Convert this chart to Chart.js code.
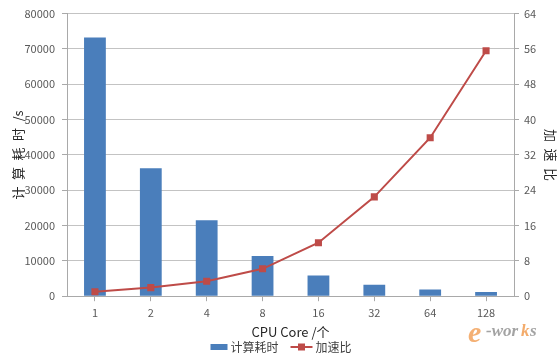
<!DOCTYPE html>
<html>
<head>
<meta charset="utf-8">
<script src="https://cdn.jsdelivr.net/npm/chart.js@4/dist/chart.umd.min.js"></script>
<style>
  html, body { margin: 0; padding: 0; background: #ffffff; }
  #wrap { width: 559px; height: 355px; position: relative; }
</style>
</head>
<body>
<div id="wrap"><canvas id="c" width="559" height="355"></canvas></div>
<script>
const categories = ['1', '2', '4', '8', '16', '32', '64', '128'];
const timeValues = [73200, 36200, 21500, 11400, 5850, 3260, 1870, 1200];
const speedupValues = [1.0, 1.95, 3.4, 6.2, 12.1, 22.5, 35.9, 55.6];
const leftTicks = [0, 10000, 20000, 30000, 40000, 50000, 60000, 70000, 80000];
const rightTicks = [0, 8, 16, 24, 32, 40, 48, 56, 64];
const seriesNames = ['计算耗时', '加速比'];
const xTitle = 'CPU Core /个';
const yTitle = '计\u2002算\u2002耗\u2002时\u2002/s';
const y1Title = '加\u2002速\u2002比';

const FONT = "'Noto Sans CJK SC', 'Liberation Sans', sans-serif";
const BLUE = '#4a7ebb';
const RED = '#be4b48';
const GRID = '#c3c3c3';
const AXIS = '#a9a9a9';

// Custom legend + watermark drawn after the chart
const overlay = {
  id: 'overlay',
  afterDraw(chart) {
    const ctx = chart.ctx;
    const bar = chart.data.datasets.find(d => d.type === 'bar');
    const line = chart.data.datasets.find(d => d.type === 'line');
    ctx.save();
    ctx.font = "12px " + FONT;
    ctx.textBaseline = 'middle';
    const cy = 347;
    const w1 = ctx.measureText(bar.label).width;
    const w2 = ctx.measureText(line.label).width;
    const total = 17 + 3 + w1 + 12 + 22 + 3 + w2;
    let x = 281 - total / 2;
    ctx.fillStyle = bar.backgroundColor;
    ctx.fillRect(x, cy - 3, 17, 6);
    x += 20;
    ctx.fillStyle = '#404040';
    ctx.fillText(bar.label, x, cy);
    x += w1 + 12;
    ctx.strokeStyle = line.borderColor;
    ctx.lineWidth = 2;
    ctx.beginPath();
    ctx.moveTo(x, cy);
    ctx.lineTo(x + 22, cy);
    ctx.stroke();
    ctx.fillStyle = line.borderColor;
    ctx.fillRect(x + 11 - 3.5, cy - 3.5, 7, 7);
    x += 25;
    ctx.fillStyle = '#404040';
    ctx.fillText(line.label, x, cy);
    ctx.restore();

    // watermark
    ctx.save();
    ctx.textBaseline = 'alphabetic';
    ctx.font = "italic bold 30px 'Liberation Serif', serif";
    ctx.fillStyle = 'rgba(240,150,70,0.75)';
    ctx.fillText('e', 468, 342);
    ctx.font = "italic bold 17px 'Liberation Serif', serif";
    ctx.fillStyle = 'rgba(140,140,140,0.8)';
    ctx.fillText('-wor', 486, 336);
    ctx.fillStyle = 'rgba(240,150,70,0.8)';
    ctx.fillText('k', 521, 336);
    ctx.fillStyle = 'rgba(140,140,140,0.8)';
    ctx.fillText('s', 530, 336);
    ctx.restore();
  }
};

new Chart(document.getElementById('c'), {
  data: {
    labels: categories,
    datasets: [
      {
        type: 'line',
        label: seriesNames[1],
        data: speedupValues,
        yAxisID: 'y1',
        borderColor: RED,
        backgroundColor: RED,
        borderWidth: 2,
        pointStyle: 'rect',
        pointRadius: 5,
        pointHoverRadius: 5,
        pointBackgroundColor: RED,
        pointBorderColor: RED,
        pointBorderWidth: 0,
        tension: 0,
        order: 0
      },
      {
        type: 'bar',
        label: seriesNames[0],
        data: timeValues,
        yAxisID: 'y',
        backgroundColor: BLUE,
        borderWidth: 0,
        barPercentage: 0.39,
        categoryPercentage: 1.0,
        order: 1
      }
    ]
  },
  options: {
    responsive: false,
    animation: false,
    devicePixelRatio: 1,
    layout: { padding: { top: 9, left: 0, right: 0, bottom: 15 } },
    plugins: {
      tooltip: { enabled: false },
      legend: { display: false }
    },
    scales: {
      x: {
        type: 'category',
        offset: true,
        grid: { display: true, drawOnChartArea: false, drawTicks: true, tickLength: 5, color: AXIS, offset: false },
        border: { display: true, color: AXIS, width: 1 },
        ticks: { color: '#595959', font: { family: FONT, size: 11 }, padding: 5, maxRotation: 0 },
        title: { display: true, text: xTitle, color: '#262626', font: { family: FONT, size: 13 }, padding: { top: 0, bottom: 0 } }
      },
      y: {
        position: 'left',
        min: 0, max: 80000,
        afterBuildTicks(s) { s.ticks = leftTicks.map(v => ({ value: v })); },
        afterFit(s) { s.width = 67; },
        grid: { color: GRID, lineWidth: 1, tickLength: 5, drawTicks: true, tickColor: AXIS },
        border: { display: true, color: AXIS, width: 1 },
        ticks: { color: '#595959', font: { family: FONT, size: 11 }, padding: 7, callback: v => String(v) },
        title: { display: true, text: yTitle, color: '#262626', font: { family: FONT, size: 13 }, padding: { top: 10, bottom: 0 } }
      },
      y1: {
        position: 'right',
        min: 0, max: 64,
        afterBuildTicks(s) { s.ticks = rightTicks.map(v => ({ value: v })); },
        afterFit(s) { s.width = 45; },
        grid: { drawOnChartArea: false, tickLength: 5, drawTicks: true, color: AXIS },
        border: { display: true, color: AXIS, width: 1 },
        ticks: { color: '#595959', font: { family: FONT, size: 11 }, padding: 5, callback: v => String(v) },
        title: { display: true, text: y1Title, color: '#262626', font: { family: FONT, size: 13 }, padding: { top: 0, bottom: 2 } }
      }
    }
  },
  plugins: [overlay]
});
</script>
</body>
</html>
